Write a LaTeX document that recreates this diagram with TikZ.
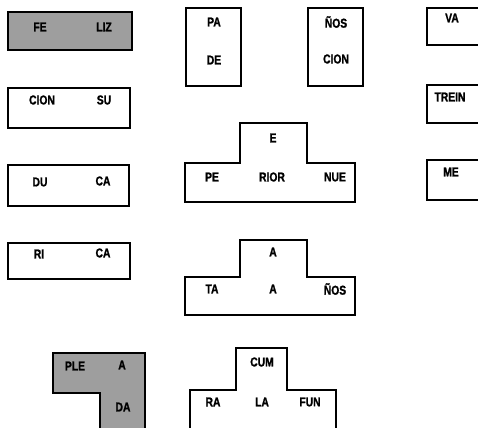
\documentclass[tikz,border=0pt]{standalone}
\usepackage{fontspec}
\setmainfont[FakeStretch=0.8,BoldFeatures={FakeBold=1.2}]{Liberation Sans}
\definecolor{cardgray}{RGB}{158,158,158}
\begin{document}
\begin{tikzpicture}[
    x=0.03cm, y=-0.03cm,
    card/.style={draw, line width=1.3pt},
    every node/.style={font=\bfseries\fontsize{11}{12}\selectfont, inner sep=0pt}
]
\clip (0,0) rectangle (478,428);

% left column
\draw[card, fill=cardgray] (8,12) rectangle (132,50);
\node (fe) at (40,27) {FE};
\node (liz) at (104,27) {LIZ};

\draw[card] (8,88) rectangle (130,128);
\node (cion1) at (42,100) {CION};
\node (su) at (104,100) {SU};

\draw[card] (8,165) rectangle (129,206);
\node (du) at (40,182) {DU};
\node (ca1) at (103,181) {CA};

\draw[card] (8,243) rectangle (130,279);
\node (ri) at (39,254) {RI};
\node (ca2) at (103,253) {CA};

\draw[card, fill=cardgray] (53,353) -- (145,353) -- (145,440) -- (100,440)
    -- (100,393) -- (53,393) -- cycle;
\node (ple) at (75,366) {PLE};
\node (a3) at (122,365) {A};
\node (da) at (123,407) {DA};

% middle
\draw[card] (186,8) rectangle (241,86);
\node (pa) at (214,22) {PA};
\node (de) at (214,60) {DE};

\draw[card] (308,8) rectangle (363,86);
\node (nos1) at (336,22) {ÑOS};
\node (cion2) at (336,59) {CION};

\draw[card] (185,163) -- (240,163) -- (240,123) -- (307,123) -- (307,163)
    -- (355,163) -- (355,202) -- (185,202) -- cycle;
\node (e) at (273,138) {E};
\node (pe) at (212,177) {PE};
\node (rior) at (272,177) {RIOR};
\node (nue) at (335,177) {NUE};

\draw[card] (185,277) -- (240,277) -- (240,240) -- (307,240) -- (307,277)
    -- (355,277) -- (355,315) -- (185,315) -- cycle;
\node (a1) at (273,252) {A};
\node (ta) at (212,289) {TA};
\node (a2) at (273,289) {A};
\node (nos2) at (335,289) {ÑOS};

\draw[card] (190,390) -- (236,390) -- (236,348) -- (287,348) -- (287,390)
    -- (336,390) -- (336,440) -- (190,440) -- cycle;
\node (cum) at (262,362) {CUM};
\node (ra) at (213,402) {RA};
\node (la) at (262,402) {LA};
\node (fun) at (310,402) {FUN};

% right column
\draw[card] (427,8) rectangle (490,45);
\node (va) at (452,18) {VA};

\draw[card] (427,85) rectangle (490,123);
\node (trein) at (450,97) {TREIN};

\draw[card] (427,160) rectangle (490,200);
\node (me) at (451,172) {ME};
\end{tikzpicture}
\end{document}
